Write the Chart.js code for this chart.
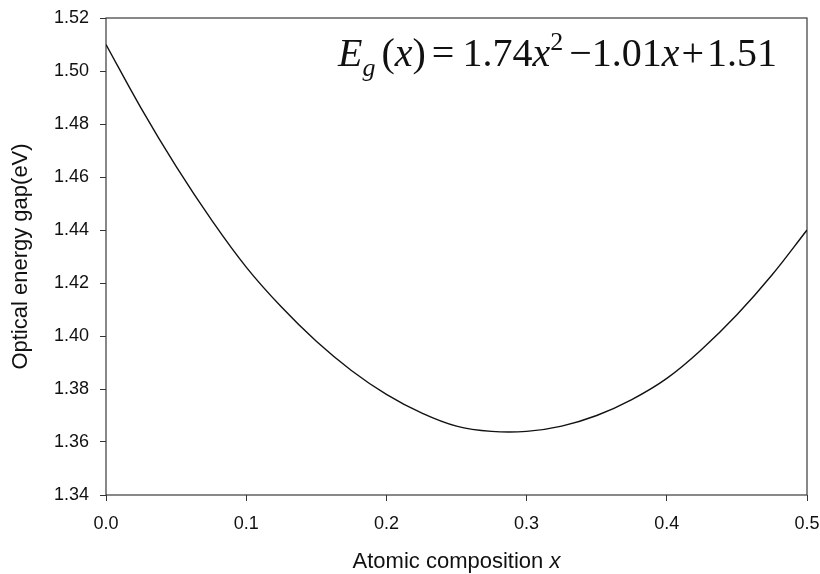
<!DOCTYPE html>
<html>
<head>
<meta charset="utf-8">
<script src="https://cdn.jsdelivr.net/npm/chart.js@4"></script>
<style>
  html, body { margin: 0; padding: 0; background: #fff; }
  #wrap { width: 820px; height: 574px; }
</style>
</head>
<body>
<div id="wrap"><canvas id="chart" width="820" height="574"></canvas></div>
<script>
// Datos
const composition = [0, 0.025, 0.05, 0.075, 0.1, 0.125, 0.15, 0.175, 0.2, 0.225, 0.25,
                     0.275, 0.3, 0.325, 0.35, 0.375, 0.4, 0.425, 0.45, 0.475, 0.5];
const energyGap = [1.510, 1.486, 1.464, 1.444, 1.426, 1.411, 1.398, 1.387, 1.378, 1.371, 1.366,
                   1.364, 1.364, 1.366, 1.370, 1.376, 1.384, 1.395, 1.408, 1.423, 1.440];
const xTicks = [0, 0.1, 0.2, 0.3, 0.4, 0.5];
const yTicks = [1.34, 1.36, 1.38, 1.40, 1.42, 1.44, 1.46, 1.48, 1.50, 1.52];

const sans = "'Liberation Sans', Arial, sans-serif";
const serif = "'Liberation Serif', 'Times New Roman', serif";

// Marco alrededor del área de trazado
const framePlugin = {
    id: 'frame',
    beforeDatasetsDraw(chart) {
        const { ctx, chartArea: a } = chart;
        ctx.save();
        ctx.strokeStyle = '#3a3a3a';
        ctx.lineWidth = 1.2;
        ctx.strokeRect(a.left, a.top, a.right - a.left, a.bottom - a.top);
        ctx.restore();
    }
};

// Dibuja una línea de texto con trozos en cursiva
function drawRich(ctx, parts, x, base) {
    parts.forEach(p => {
        ctx.font = (p.it ? 'italic ' : '') + p.s + 'px ' + p.f;
        ctx.fillText(p.t, x, base + (p.dy || 0));
        x += ctx.measureText(p.t).width + (p.gap || 0);
    });
}

// Ecuación del ajuste y título del eje x
const textPlugin = {
    id: 'texts',
    afterDraw(chart) {
        const ctx = chart.ctx;
        const a = chart.chartArea;
        const big = 40, small = 26;
        const eq = [
            { t: 'E', it: true, s: big, f: serif },
            { t: 'g', it: true, s: small, f: serif, dy: 10, gap: 6 },
            { t: '(', s: big, f: serif },
            { t: 'x', it: true, s: big, f: serif },
            { t: ')', s: big, f: serif, gap: 6 },
            { t: '=', s: big, f: serif, gap: 8 },
            { t: '1.74', s: big, f: serif },
            { t: 'x', it: true, s: big, f: serif },
            { t: '2', s: small, f: serif, dy: -16, gap: 6 },
            { t: '\u22121.01', s: big, f: serif },
            { t: 'x', it: true, s: big, f: serif, gap: 2 },
            { t: '+', s: big, f: serif, gap: 3 },
            { t: '1.51', s: big, f: serif }
        ];
        ctx.save();
        ctx.fillStyle = '#111';
        ctx.textBaseline = 'alphabetic';
        ctx.textAlign = 'left';
        drawRich(ctx, eq, 338, 66);

        const title = [
            { t: 'Atomic composition ', s: 22, f: sans },
            { t: 'x', it: true, s: 22, f: sans }
        ];
        let w = 0;
        title.forEach(p => {
            ctx.font = (p.it ? 'italic ' : '') + p.s + 'px ' + p.f;
            w += ctx.measureText(p.t).width;
        });
        ctx.textBaseline = 'middle';
        drawRich(ctx, title, (a.left + a.right) / 2 - w / 2, 562);
        ctx.restore();
    }
};

// Sin margen extra por las etiquetas de los extremos
function noOverflow(axis) {
    axis.paddingLeft = 0;
    axis.paddingRight = 0;
    axis.paddingTop = 0;
    axis.paddingBottom = 0;
}

const ctx = document.getElementById('chart').getContext('2d');
new Chart(ctx, {
    type: 'line',
    data: {
        datasets: [{
            data: composition.map((c, i) => ({ x: c, y: energyGap[i] })),
            borderColor: '#111',
            borderWidth: 1.4,
            pointRadius: 0,
            tension: 0.4,
            fill: false
        }]
    },
    options: {
        responsive: false,
        animation: false,
        layout: { padding: { top: 18, right: 13, left: 0, bottom: 0 } },
        plugins: { legend: { display: false }, tooltip: { enabled: false } },
        scales: {
            x: {
                type: 'linear',
                min: 0, max: 0.5,
                afterBuildTicks: axis => { axis.ticks = xTicks.map(v => ({ value: v })); },
                afterFit: axis => { axis.height = 79; noOverflow(axis); },
                grid: { drawOnChartArea: false, drawTicks: true, tickLength: 6, color: '#333' },
                border: { display: false },
                ticks: {
                    color: '#111', padding: 12,
                    font: { family: sans, size: 18 },
                    maxRotation: 0,
                    callback: v => v.toFixed(1)
                },
                title: { display: false }
            },
            y: {
                type: 'linear',
                min: 1.34, max: 1.52,
                afterBuildTicks: axis => { axis.ticks = yTicks.map(v => ({ value: v })); },
                afterFit: axis => { axis.width = 106; noOverflow(axis); },
                grid: { drawOnChartArea: false, drawTicks: true, tickLength: 6, color: '#333' },
                border: { display: false },
                ticks: {
                    color: '#111', padding: 11,
                    font: { family: sans, size: 18 },
                    callback: v => v.toFixed(2)
                },
                title: {
                    display: true,
                    text: 'Optical energy gap(eV)',
                    color: '#111',
                    font: { family: sans, size: 22 },
                    padding: { top: 8, bottom: 0 }
                }
            }
        }
    },
    plugins: [framePlugin, textPlugin]
});
</script>
</body>
</html>
